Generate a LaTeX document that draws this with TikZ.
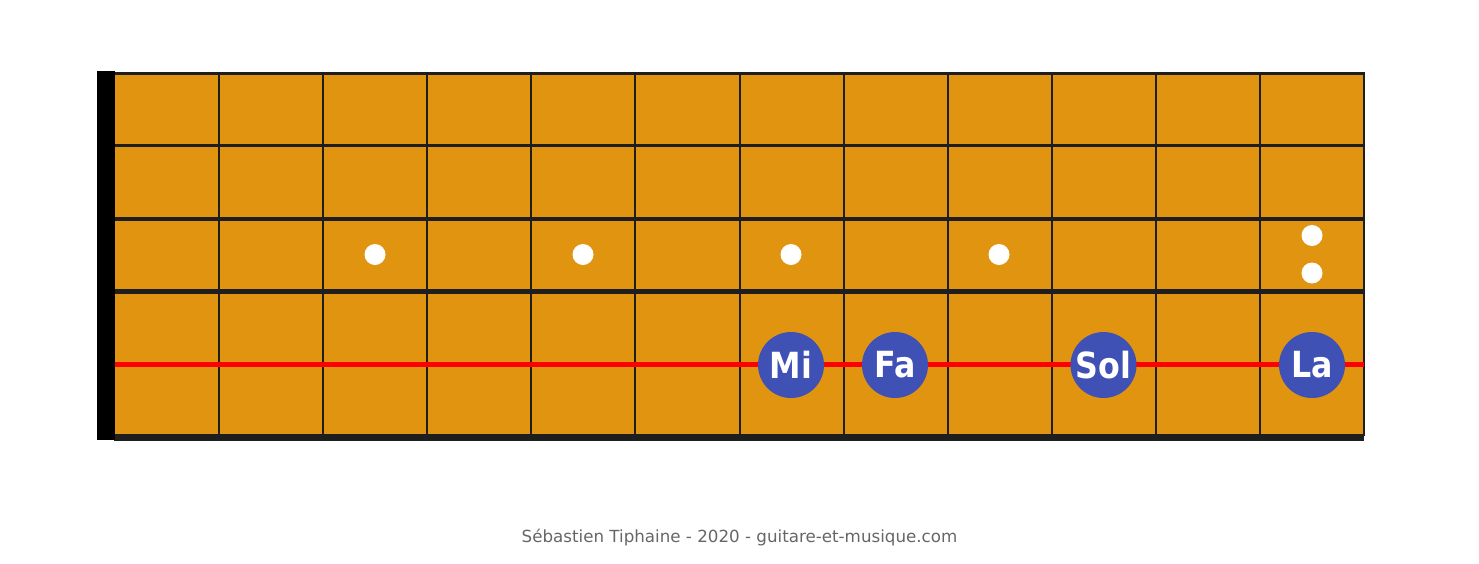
\documentclass[tikz,border=0pt]{standalone}
\usepackage{fontspec}
\setmainfont{DejaVu Sans}
\newfontfamily\notefont[FakeStretch=0.88]{DejaVu Sans Bold}
\definecolor{board}{RGB}{224,148,16}
\definecolor{fretc}{RGB}{30,30,30}
\definecolor{notec}{RGB}{63,81,181}
\definecolor{foot}{RGB}{102,102,102}
\definecolor{redstr}{RGB}{255,0,0}
\tikzset{
  fretline/.style={draw=fretc, line width=2pt},
  inlay/.style={circle, fill=white, minimum size=21pt, inner sep=0pt},
  notedot/.style={circle, fill=notec, minimum size=66pt, inner sep=0pt, text=white, font=\notefont\fontsize{36}{36}\selectfont},
}
\begin{document}
\begin{tikzpicture}[x=1pt,y=-1pt]
\useasboundingbox (0,0) rectangle (1479,563);
% board
\fill[board] (115,73) rectangle (1364,436);
% frets
\foreach \k in {1,...,11} {
  \draw[fretline] ({115+104.083*\k},73) -- ({115+104.083*\k},436);
}
\draw[draw=fretc, line width=2.7pt] (1364,72) -- (1364,436);
% strings
\draw[draw=fretc, line width=2.5pt] (115,73.3) -- (1365.3,73.3);
\draw[draw=fretc, line width=3pt] (115,145.8) -- (1364,145.8);
\draw[draw=fretc, line width=4pt] (115,218.8) -- (1364,218.8);
\draw[draw=fretc, line width=5pt] (115,291.8) -- (1364,291.8);
\draw[draw=redstr, line width=5.5pt] (115,364.7) -- (1364,364.7);
\fill[fretc] (114,433.5) rectangle (1364,441);
% nut
\fill[black] (97,71) rectangle (115,440);
% inlays
\node[inlay] (d3) at (375,254.5) {};
\node[inlay] (d5) at (583,254.5) {};
\node[inlay] (d7) at (791,254.5) {};
\node[inlay] (d9) at (999,254.5) {};
\node[inlay] (d12a) at (1312,235.5) {};
\node[inlay] (d12b) at (1312,273) {};
% notes
\node[notedot] (mi) at (791,365) {\raisebox{-3pt}{Mi}};
\node[notedot] (fa) at (895,365) {\raisebox{-3pt}{Fa}};
\node[notedot] (sol) at (1103.5,365) {\raisebox{-3pt}{Sol}};
\node[notedot] (la) at (1312,365) {\raisebox{-3pt}{La}};
% footer
\node[text=foot, font=\fontsize{16.7}{16.7}\selectfont] (credit) at (739.5,538) {Sébastien Tiphaine - 2020 - guitare-et-musique.com};
\end{tikzpicture}
\end{document}
